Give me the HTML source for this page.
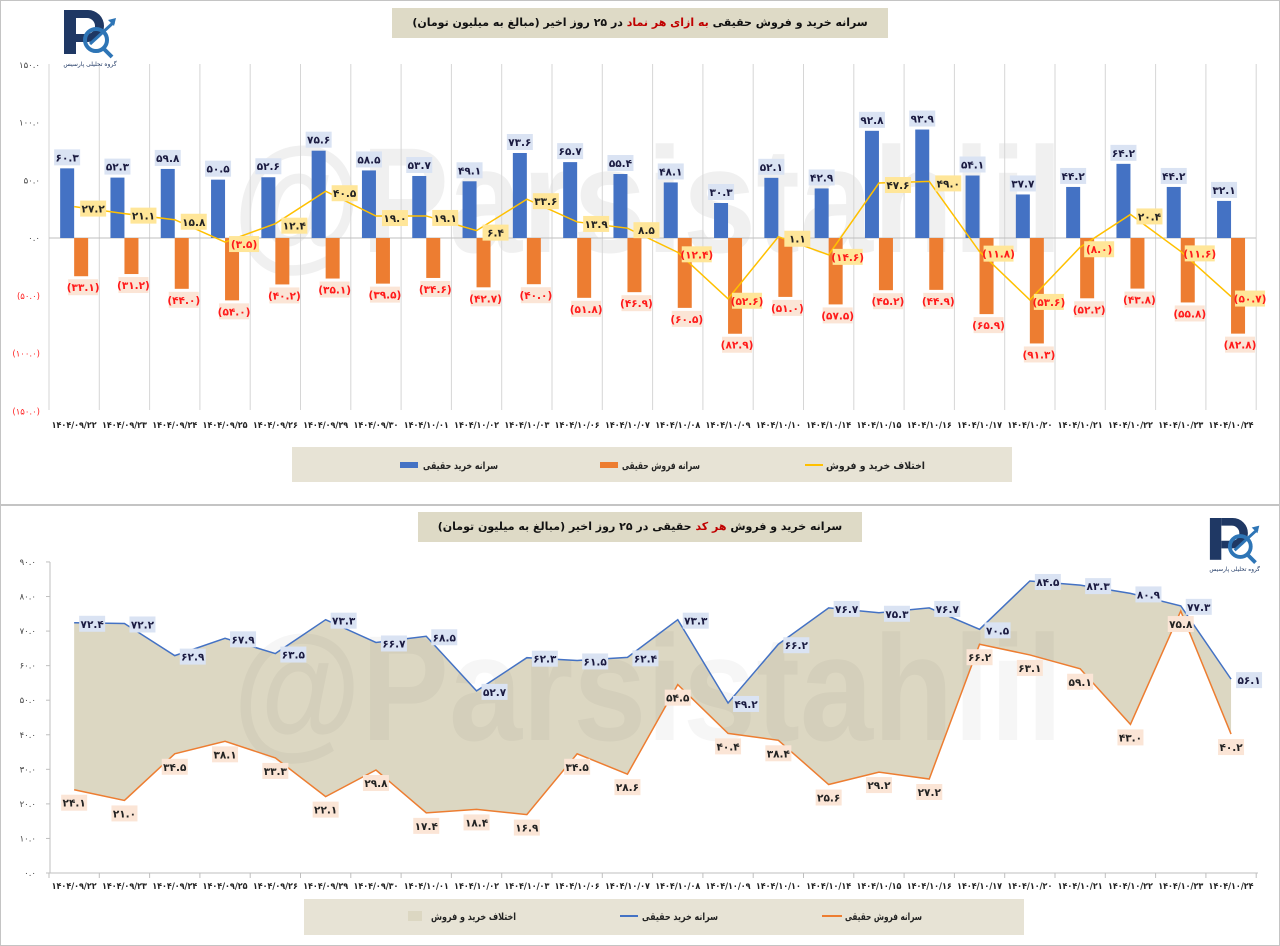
<!DOCTYPE html>
<html><head><meta charset="utf-8">
<style>
html,body{margin:0;padding:0;background:#fff;}
body{width:1280px;height:946px;position:relative;overflow:hidden;font-family:"Liberation Sans","Noto Sans CJK SC",sans-serif;}
.panel{position:absolute;left:0;width:1278px;border:1px solid #c4c4c4;background:#fff;}
.title{position:absolute;background:#dedac6;font-weight:bold;font-size:11px;color:#111;text-align:center;line-height:30px;direction:rtl;font-family:"DejaVu Sans","Liberation Sans",sans-serif;white-space:nowrap;overflow:hidden;}
.title span{color:#c00000;}
svg{position:absolute;left:0;top:0;}
</style></head><body>
<div class="panel" style="top:0;height:503px;"></div>
<div class="panel" style="top:505px;height:439px;"></div>
<div class="title" style="left:392px;top:8px;width:496px;height:30px;">سرانه خرید و فروش حقیقی <span>به ازای هر نماد</span> در ۲۵ روز اخیر (مبالغ به میلیون تومان)</div>
<div class="title" style="left:418px;top:512px;width:444px;height:30px;">سرانه خرید و فروش <span>هر کد</span> حقیقی در ۲۵ روز اخیر (مبالغ به میلیون تومان)</div>
<svg id="s" width="1280" height="946" xmlns="http://www.w3.org/2000/svg"></svg>
<script>
var P='۰۱۲۳۴۵۶۷۸۹';
function fa(s){return String(s).replace(/\d/g,function(d){return P[d];});}
var dates=['1404/09/22','1404/09/23','1404/09/24','1404/09/25','1404/09/26','1404/09/29','1404/09/30','1404/10/01','1404/10/02','1404/10/03','1404/10/06','1404/10/07','1404/10/08','1404/10/09','1404/10/10','1404/10/14','1404/10/15','1404/10/16','1404/10/17','1404/10/20','1404/10/21','1404/10/22','1404/10/23','1404/10/24'];
var tb=[60.3,52.3,59.8,50.5,52.6,75.6,58.5,53.7,49.1,73.6,65.7,55.4,48.1,30.3,52.1,42.9,92.8,93.9,54.1,37.7,44.2,64.2,44.2,32.1];
var to=[33.1,31.2,44.0,54.0,40.2,35.1,39.5,34.6,42.7,40.0,51.8,46.9,60.5,82.9,51.0,57.5,45.2,44.9,65.9,91.3,52.2,43.8,55.8,82.8];
var bb=[72.4,72.2,62.9,67.9,63.5,73.3,66.7,68.5,52.7,62.3,61.5,62.4,73.3,49.2,66.2,76.7,75.3,76.7,70.5,84.5,83.3,80.9,77.3,56.1];
var bo=[24.1,21.0,34.5,38.1,33.3,22.1,29.8,17.4,18.4,16.9,34.5,28.6,54.5,40.4,38.4,25.6,29.2,27.2,66.2,63.1,59.1,43.0,75.8,40.2];
var h='';
function cx(i){return 49+50.3*(i+0.5);}
function yT(v){return 238-v*1.155;}
function yB(v){return 873-v*3.456;}
function lbl(x,y,t,bg,col,w){w=w||26;h+='<rect x="'+(x-w/2)+'" y="'+(y-8)+'" width="'+w+'" height="16" fill="'+bg+'"/><text x="'+x+'" y="'+(y+4)+'" font-size="10.5" font-weight="bold" fill="'+col+'" text-anchor="middle" font-family="DejaVu Sans,sans-serif">'+fa(t)+'</text>';}
function dl(x,y,t){h+='<text x="'+x+'" y="'+y+'" font-size="9" font-weight="bold" fill="#222" text-anchor="middle" textLength="45" lengthAdjust="spacingAndGlyphs" font-family="DejaVu Sans,sans-serif">'+fa(t)+'</text>';}
function lt(x,y,t,w){h+='<text x="'+(x-w)+'" y="'+y+'" font-size="10" font-weight="bold" fill="#222" textLength="'+w+'" lengthAdjust="spacingAndGlyphs" font-family="DejaVu Sans,sans-serif">'+t+'</text>';}
h+='<text x="233" y="252" font-size="150" font-weight="bold" fill="#000" fill-opacity="0.06" textLength="830" lengthAdjust="spacingAndGlyphs" font-family="Liberation Sans,sans-serif">@Parsistahlil</text>';
for(var k=0;k<=24;k++){var x=49+50.3*k;h+='<line x1="'+x+'" y1="64" x2="'+x+'" y2="410" stroke="#d6d6d6" stroke-width="1"/>';}
h+='<line x1="49" y1="238" x2="1256" y2="238" stroke="#bfbfbf"/>';
var yl=[[150,'۱۵۰.۰'],[100,'۱۰۰.۰'],[50,'۵۰.۰'],[0,'۰.۰'],[-50,'(۵۰.۰)'],[-100,'(۱۰۰.۰)'],[-150,'(۱۵۰.۰)']];
yl.forEach(function(a){h+='<text x="40" y="'+(yT(a[0])+3)+'" font-size="8.5" fill="'+(a[0]<0?'#ff2020':'#444')+'" text-anchor="end" font-family="DejaVu Sans,sans-serif">'+a[1]+'</text>';});
var pts=[];
for(var i=0;i<24;i++){var c=cx(i);
h+='<rect x="'+(c-14)+'" y="'+yT(tb[i])+'" width="14" height="'+(tb[i]*1.155)+'" fill="#4472c4"/>';
h+='<rect x="'+c+'" y="238" width="14" height="'+(to[i]*1.155)+'" fill="#ed7d31"/>';
pts.push(c+','+yT(tb[i]-to[i]));
dl(c,428,dates[i]);}
h+='<polyline points="'+pts.join(' ')+'" fill="none" stroke="#ffc000" stroke-width="1.5"/>';
for(var i=0;i<24;i++){var c=cx(i);
lbl(c-7,yT(tb[i])-11,tb[i].toFixed(1),'#dae3f3','#1a1a40');
lbl(c+9,238+to[i]*1.155+11,'('+to[i].toFixed(1)+')','#fbe5d6','#ff1a1a',30);
var d=Math.round((tb[i]-to[i])*10)/10;
lbl(c+19,yT(d)+2,d<0?'('+(-d).toFixed(1)+')':d.toFixed(1),'#ffe699',d<0?'#ff1a1a':'#222',d<0?30:26);}
h+='<rect x="292" y="447" width="720" height="35" fill="#e7e3d5"/>';
h+='<rect x="400" y="462" width="18" height="6" fill="#4472c4"/>';lt(498,469,'سرانه خرید حقیقی',75);
h+='<rect x="600" y="462" width="18" height="6" fill="#ed7d31"/>';lt(700,469,'سرانه فروش حقیقی',78);
h+='<line x1="805" y1="465" x2="823" y2="465" stroke="#ffc000" stroke-width="2"/>';lt(925,469,'اختلاف خرید و فروش',99);
var up=[],dn=[];
for(var i=0;i<24;i++){up.push(cx(i)+','+yB(bb[i]));dn.unshift(cx(i)+','+yB(bo[i]));}
h+='<polygon points="'+up.concat(dn).join(' ')+'" fill="#dcd7c2"/>';
h+='<text x="233" y="740" font-size="150" font-weight="bold" fill="#000" fill-opacity="0.035" textLength="830" lengthAdjust="spacingAndGlyphs" font-family="Liberation Sans,sans-serif">@Parsistahlil</text>';
h+='<polyline points="'+up.join(' ')+'" fill="none" stroke="#4472c4" stroke-width="1.5"/>';
h+='<polyline points="'+dn.join(' ')+'" fill="none" stroke="#ed7d31" stroke-width="1.5"/>';
h+='<line x1="50" y1="562" x2="50" y2="873" stroke="#bfbfbf"/><line x1="50" y1="873" x2="1258" y2="873" stroke="#bfbfbf"/>';
for(var v=0;v<=90;v+=10){var y=yB(v);h+='<line x1="46" y1="'+y+'" x2="50" y2="'+y+'" stroke="#bfbfbf"/><text x="36" y="'+(y+3)+'" font-size="8.5" fill="#444" text-anchor="end" font-family="DejaVu Sans,sans-serif">'+fa(v.toFixed(1))+'</text>';}
for(var k=0;k<=24;k++){var x=49+50.3*k;h+='<line x1="'+x+'" y1="873" x2="'+x+'" y2="878" stroke="#bfbfbf"/>';}
for(var i=0;i<24;i++){var c=cx(i);
dl(c,889,dates[i]);
lbl(c+18,yB(bb[i])+1,bb[i].toFixed(1),'#dae3f3','#1a1a40');
lbl(c,yB(bo[i])+13,bo[i].toFixed(1),'#fbe5d6','#222');}
h+='<rect x="304" y="899" width="720" height="36" fill="#e7e3d5"/>';
h+='<rect x="408" y="911" width="14" height="10" fill="#dcd7c2"/>';lt(516,920,'اختلاف خرید و فروش',85);
h+='<line x1="620" y1="916" x2="638" y2="916" stroke="#4472c4" stroke-width="2"/>';lt(718,920,'سرانه خرید حقیقی',76);
h+='<line x1="822" y1="916" x2="842" y2="916" stroke="#ed7d31" stroke-width="2"/>';lt(922,920,'سرانه فروش حقیقی',77);
function logo(x,y,s){h+='<g transform="translate('+x+','+y+') scale('+s+')"><rect x="2" y="0" width="12" height="44" fill="#1f3864"/><path d="M14 0 H26 A16 16 0 0 1 26 32 H14 V24 H25 A8 8 0 0 0 25 8 H14Z" fill="#1f3864"/><circle cx="34" cy="30" r="11" fill="none" stroke="#2e75b6" stroke-width="4"/><line x1="41" y1="38" x2="50" y2="47" stroke="#2e75b6" stroke-width="4"/><line x1="28" y1="34" x2="52" y2="12" stroke="#2e75b6" stroke-width="3"/><path d="M54 8 L46 10 L52 16Z" fill="#2e75b6"/><text x="28" y="56" font-size="6" fill="#1f3864" text-anchor="middle" font-family="DejaVu Sans,sans-serif">گروه تحلیلی پارسیس</text></g>';}
logo(62,10,1);logo(1208,518,0.95);
document.getElementById('s').innerHTML=h;
</script>
</body></html>
